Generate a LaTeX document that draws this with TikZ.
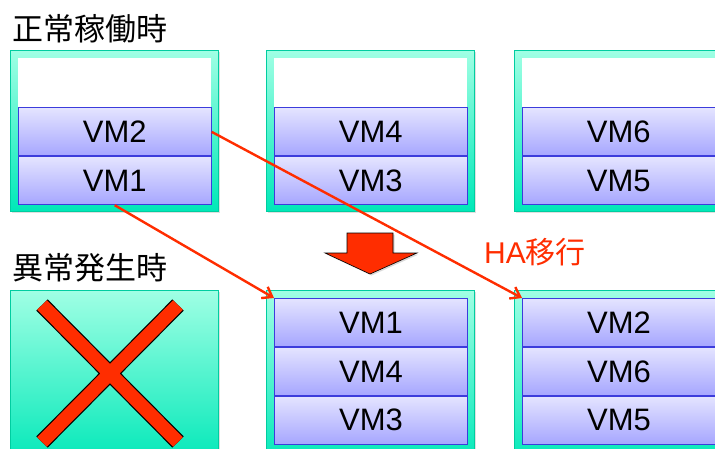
\documentclass[tikz,border=0pt]{standalone}
\usepackage{fontspec}
\setmainfont{Liberation Sans}
\newfontfamily\jpfont{Noto Sans CJK JP}
\usepackage{tikz}
\usetikzlibrary{chains,positioning,shadows,arrows.meta}
\definecolor{hosttop}{RGB}{160,255,228}
\definecolor{hostbot}{RGB}{0,232,184}
\definecolor{hostline}{RGB}{0,205,160}
\definecolor{vmtop}{RGB}{228,228,255}
\definecolor{vmbot}{RGB}{166,166,255}
\definecolor{vmline}{RGB}{60,60,220}
\definecolor{hared}{RGB}{255,45,0}
\tikzstyle{host}=[draw=hostline,line width=0.8pt,top color=hosttop,bottom color=hostbot,anchor=north west,inner sep=0pt,minimum width=208pt,drop shadow={shadow xshift=2pt,shadow yshift=-2pt,opacity=0.25}]
\tikzstyle{slot}=[fill=white,minimum width=193pt,minimum height=49pt,inner sep=0pt]
\tikzstyle{vm}=[draw=vmline,line width=0.9pt,top color=vmtop,bottom color=vmbot,minimum width=193pt,minimum height=48pt,inner sep=0pt,font=\fontsize{31}{36}\selectfont]
\tikzstyle{title}=[anchor=base west,inner sep=0pt,font=\fontsize{31}{36}\selectfont\jpfont]
\tikzstyle{migrate}=[hared,line width=2.4pt,-{Straight Barb[length=9pt,width=13pt]}]

\begin{document}
\begin{tikzpicture}[x=1pt,y=-1pt]
\useasboundingbox (0,0) rectangle (715,448);
\clip (0,0) rectangle (715,448);
% normal operation
\node [title] (normal) at (12,40) {正常稼働時};
\node [host,minimum height=161pt] (hostA) at (10,50) {};
\node [host,minimum height=161pt] (hostB) at (266,50) {};
\node [host,minimum height=161pt] (hostC) at (514,50) {};
\begin{scope}[start chain=1 going below,node distance=0pt]
    \node [on chain=1,slot,anchor=north west] (a-slot) at (18,58) {};
    \node [on chain=1,vm] (a-vm2) {VM2};
    \node [on chain=1,vm] (a-vm1) {VM1};
\end{scope}
\begin{scope}[start chain=2 going below,node distance=0pt]
    \node [on chain=2,slot,anchor=north west] (b-slot) at (274,58) {};
    \node [on chain=2,vm] (b-vm4) {VM4};
    \node [on chain=2,vm] (b-vm3) {VM3};
\end{scope}
\begin{scope}[start chain=3 going below,node distance=0pt]
    \node [on chain=3,slot,anchor=north west] (c-slot) at (522,58) {};
    \node [on chain=3,vm] (c-vm6) {VM6};
    \node [on chain=3,vm] (c-vm5) {VM5};
\end{scope}
% failure
\node [title] (failure) at (12,279) {異常発生時};
\node [host,minimum height=175pt] (hostD) at (10,290) {};
\node [host,minimum height=175pt] (hostE) at (266,290) {};
\node [host,minimum height=175pt] (hostF) at (514,290) {};
\draw [black,line width=16pt] (42,305) -- (178,442) (178,305) -- (42,442);
\draw [hared,line width=13.6pt] (42,305) -- (178,442) (178,305) -- (42,442);
\begin{scope}[start chain=4 going below,node distance=0pt]
    \node [on chain=4,vm,anchor=north west] (e-vm1) at (274,298) {VM1};
    \node [on chain=4,vm] (e-vm4) {VM4};
    \node [on chain=4,vm] (e-vm3) {VM3};
\end{scope}
\begin{scope}[start chain=5 going below,node distance=0pt]
    \node [on chain=5,vm,anchor=north west] (f-vm2) at (522,298) {VM2};
    \node [on chain=5,vm] (f-vm6) {VM6};
    \node [on chain=5,vm] (f-vm5) {VM5};
\end{scope}
% down arrow
\draw [fill=hared,draw=black,line width=0.6pt,drop shadow={shadow xshift=1.5pt,shadow yshift=-1.5pt,opacity=0.3}]
    (347,233) -- (393,233) -- (393,253) -- (417,253) -- (370,274) -- (325,253) -- (347,253) -- cycle;
% migration
\draw [migrate] (a-vm2.east) -- (f-vm2.north west);
\draw [migrate] (a-vm1.south) -- (e-vm1.north west);
\node [anchor=base west,inner sep=0pt,text=hared,font=\fontsize{30}{36}\selectfont] (ha) at (484,263) {HA{\jpfont 移行}};
\end{tikzpicture}
\end{document}
